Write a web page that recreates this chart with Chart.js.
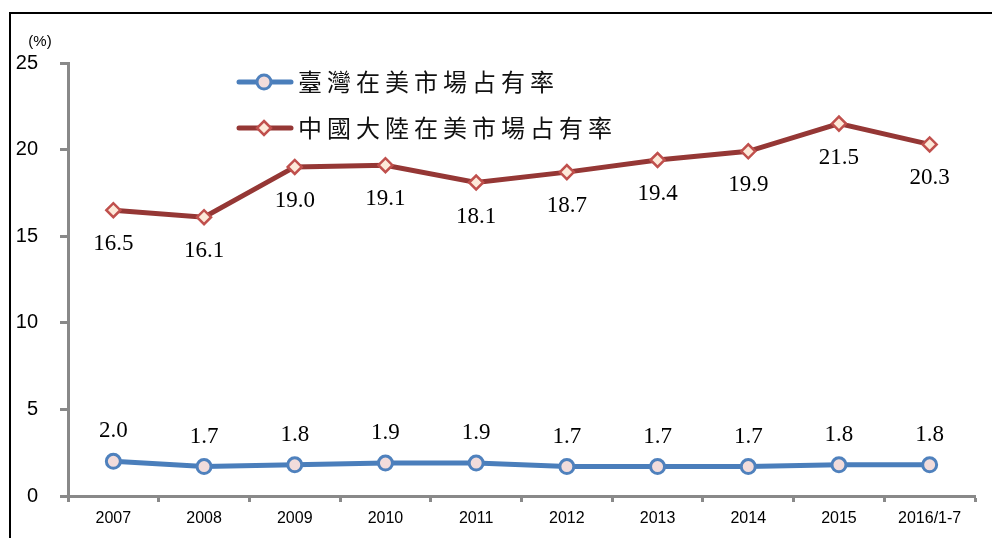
<!DOCTYPE html>
<html>
<head>
<meta charset="utf-8">
<script src="https://cdn.jsdelivr.net/npm/chart.js@4"></script>
<style>
  body { margin: 0; background: #fff; }
  canvas { display: block; }
</style>
</head>
<body>
<canvas id="chart" width="992" height="538"></canvas>
<script>
// data
var categories = ['2007', '2008', '2009', '2010', '2011', '2012', '2013', '2014', '2015', '2016/1-7'];
var taiwanShare = [2.0, 1.7, 1.8, 1.9, 1.9, 1.7, 1.7, 1.7, 1.8, 1.8];
var chinaShare = [16.5, 16.1, 19.0, 19.1, 18.1, 18.7, 19.4, 19.9, 21.5, 20.3];
var seriesNames = ['臺灣在美市場占有率', '中國大陸在美市場占有率'];
var unitLabel = '(%)';

var axisGray = '#898989';

// frame, unit text and legend drawn on the canvas
var extras = {
  id: 'extras',
  beforeDraw: function(chart) {
    var ctx = chart.ctx;
    ctx.save();
    ctx.strokeStyle = '#000';
    ctx.lineWidth = 2;
    ctx.beginPath();
    ctx.moveTo(10, 538);
    ctx.lineTo(10, 13);
    ctx.lineTo(992, 13);
    ctx.stroke();
    ctx.restore();
  },
  afterDraw: function(chart) {
    var ctx = chart.ctx;
    ctx.save();
    ctx.fillStyle = '#000';
    ctx.font = '15px "Liberation Sans"';
    ctx.textAlign = 'center';
    ctx.textBaseline = 'middle';
    ctx.fillText(unitLabel, 40, 42);

    var rows = [82, 128];
    chart.data.datasets.forEach(function(ds, i) {
      var y = rows[i];
      ctx.strokeStyle = ds.borderColor;
      ctx.lineWidth = 5;
      ctx.lineCap = 'round';
      ctx.beginPath();
      ctx.moveTo(239, y);
      ctx.lineTo(291, y);
      ctx.stroke();
      ctx.lineCap = 'butt';
      drawMarker(ctx, ds, 264, y);
      ctx.fillStyle = '#111';
      ctx.font = '24px "Noto Sans CJK TC"';
      ctx.textAlign = 'left';
      ctx.textBaseline = 'middle';
      if ('letterSpacing' in ctx) ctx.letterSpacing = '5px';
      ctx.fillText(ds.label, 298, y);
      if ('letterSpacing' in ctx) ctx.letterSpacing = '0px';
    });
    ctx.restore();
  },
  afterDatasetsDraw: function(chart) {
    var ctx = chart.ctx;
    ctx.save();
    ctx.fillStyle = '#000';
    ctx.font = '23px "Liberation Serif"';
    ctx.textAlign = 'center';
    ctx.textBaseline = 'middle';
    chart.data.datasets.forEach(function(ds, i) {
      var meta = chart.getDatasetMeta(i);
      var dy = i === 0 ? -30 : 34;
      meta.data.forEach(function(pt, j) {
        ctx.fillText(ds.data[j].toFixed(1), pt.x, pt.y + dy);
      });
    });
    ctx.restore();
  }
};

function drawMarker(ctx, ds, x, y) {
  var r = ds.pointRadius;
  ctx.fillStyle = ds.pointBackgroundColor;
  ctx.strokeStyle = ds.pointBorderColor;
  ctx.lineWidth = ds.pointBorderWidth;
  ctx.beginPath();
  if (ds.pointStyle === 'rectRot') {
    ctx.moveTo(x, y - r);
    ctx.lineTo(x + r, y);
    ctx.lineTo(x, y + r);
    ctx.lineTo(x - r, y);
    ctx.closePath();
  } else {
    ctx.arc(x, y, r, 0, Math.PI * 2);
  }
  ctx.fill();
  ctx.stroke();
}

var config = {
  type: 'line',
  data: {
    labels: categories,
    datasets: [
      {
        label: seriesNames[0],
        data: taiwanShare,
        borderColor: '#4a7ebb',
        borderWidth: 5,
        tension: 0,
        pointStyle: 'circle',
        pointRadius: 7,
        pointBorderWidth: 3,
        pointBorderColor: '#4f81bd',
        pointBackgroundColor: '#f2dcdb'
      },
      {
        label: seriesNames[1],
        data: chinaShare,
        borderColor: '#953735',
        borderWidth: 5,
        tension: 0,
        pointStyle: 'rectRot',
        pointRadius: 7,
        pointBorderWidth: 2.5,
        pointBorderColor: '#c0504d',
        pointBackgroundColor: '#fde9d9'
      }
    ]
  },
  options: {
    responsive: false,
    animation: false,
    layout: { padding: { top: 63, right: 17, bottom: 0, left: 0 } },
    plugins: {
      legend: { display: false },
      tooltip: { enabled: false }
    },
    scales: {
      x: {
        offset: true,
        afterFit: function(scale) { scale.height = 42; },
        border: { color: axisGray, width: 3 },
        grid: { drawOnChartArea: false, drawTicks: true, tickLength: 6, tickColor: axisGray, tickWidth: 3, offset: true },
        ticks: { color: '#000', padding: 7, maxRotation: 0, font: { family: 'Liberation Sans', size: 16 } }
      },
      y: {
        min: 0,
        max: 25,
        afterFit: function(scale) { scale.width = 68; },
        border: { color: axisGray, width: 3 },
        grid: { drawOnChartArea: false, drawTicks: true, tickLength: 8, tickColor: axisGray, tickWidth: 3 },
        ticks: { stepSize: 5, color: '#000', padding: 22, font: { family: 'Liberation Sans', size: 20 } }
      }
    }
  },
  plugins: [extras]
};

new Chart(document.getElementById('chart'), config);
</script>
</body>
</html>
